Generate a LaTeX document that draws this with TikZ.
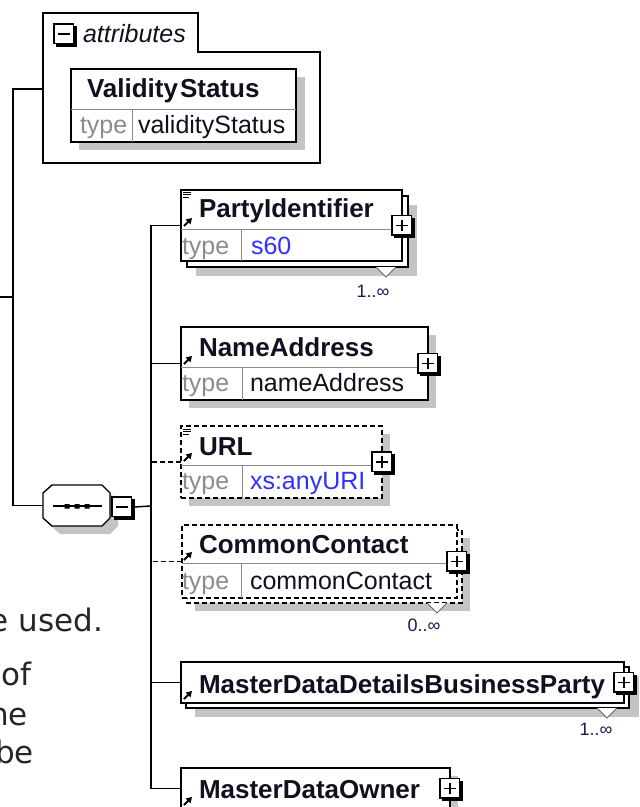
\documentclass[tikz,border=0pt]{standalone}
\usepackage{fontspec}
\setmainfont{Liberation Sans}
\newfontfamily\docfont{DejaVu Sans}
\usetikzlibrary{arrows.meta}
\definecolor{shd}{HTML}{C4C4C4}
\definecolor{typegray}{HTML}{8C8C8C}
\definecolor{divgray}{HTML}{8A8A8A}
\definecolor{typeblue}{HTML}{3030FF}
\definecolor{navy}{HTML}{1A1A50}
\definecolor{ink}{HTML}{101020}
\tikzset{
  every node/.style={inner sep=0pt, outer sep=0pt},
  conn/.style={line width=1.5pt},
  dconn/.style={line width=1.5pt, dash pattern=on 5pt off 3pt},
  elbox/.style={draw=black, line width=1.4pt, fill=white, anchor=north west, inner sep=0pt},
  delbox/.style={elbox, dash pattern=on 5pt off 3pt},
  backbox/.style={draw=black, line width=1.4pt, fill=white},
  dbackbox/.style={backbox, dash pattern=on 5pt off 3pt},
  shadowfill/.style={fill=shd, draw=none},
  divline/.style={draw=divgray, line width=1pt},
  titletext/.style={anchor=base west, font=\fontsize{26}{31}\selectfont\bfseries, text=ink},
  typelabel/.style={anchor=base west, font=\fontsize{25}{30}\selectfont, text=typegray},
  typeval/.style={anchor=base west, font=\fontsize{25}{30}\selectfont, text=ink},
  typevalblue/.style={typeval, text=typeblue},
  cardtext/.style={font=\fontsize{18}{22}\selectfont, text=navy},
  doctext/.style={anchor=base east, font=\docfont\fontsize{31}{37}\selectfont, text=black!85},
  plusbox/.pic={
    \fill[black] (-8,-8) rectangle (12.5,12.5);
    \draw[line width=1.2pt, fill=white] (-10,-10) rectangle (9.5,9.5);
    \draw[line width=1.5pt] (-6,-0.25) -- (5.5,-0.25) (-0.25,-6) -- (-0.25,5.5);
  },
  minusbox/.pic={
    \fill[black] (-8,-8) rectangle (12.5,12.5);
    \draw[line width=1.2pt, fill=white] (-10,-10) rectangle (9.5,9.5);
    \draw[line width=1.5pt] (-6,-0.25) -- (5.5,-0.25);
  },
  vmark/.pic={
    \draw[draw=black!60, line width=1pt, fill=white] (-10,0) -- (0,10) -- (10,0);
  },
  refarrow/.pic={
    \draw[line width=2pt, -{Triangle[length=5.5pt,width=6.5pt]}] (0,0) -- (8,-8);
  },
  docicon/.pic={
    \draw[line width=1pt] (0,0) -- (8,0) (0,2.8) -- (8,2.8) (0,5.6) -- (6,5.6);
  },
  octshadow/.pic={
    \fill[shd] (-24.5,-20.5) -- (25.5,-20.5) -- (33.5,-12.5) -- (33.5,12.5) -- (25.5,20.5) -- (-24.5,20.5) -- (-33.5,12.5) -- (-33.5,-12.5) -- cycle;
  },
  octagon/.pic={
    \draw[line width=1.4pt, fill=white] (-24.5,-20.5) -- (25.5,-20.5) -- (33.5,-12.5) -- (33.5,12.5) -- (25.5,20.5) -- (-24.5,20.5) -- (-33.5,12.5) -- (-33.5,-12.5) -- cycle;
  },
}
\begin{document}
\begin{tikzpicture}[x=1pt, y=-1pt]
\useasboundingbox (0,0) rectangle (640,807);
\clip (0,0) rectangle (640,807);

% ---------------- attributes group ----------------
\draw[line width=1.8pt, fill=white] (43,13) -- (198,13) -- (198,52) -- (320,52) -- (320,163) -- (43,163) -- cycle;
\node[anchor=north west, minimum width=277pt, minimum height=150pt] (attr) at (43,13) {};
\pic at (64,34) {minusbox};
\node[anchor=base west, font=\fontsize{25}{30}\selectfont\itshape, text=ink] (attrT) at (83,42) {attributes};

\fill[shadowfill] (79,77) rectangle (305,150);
\node[elbox, minimum width=225pt, minimum height=73pt] (vs) at (71,69) {};
\draw[divline] ([yshift=-40pt]vs.north west) -- ([yshift=-40pt]vs.north east);
\draw[divline] ([xshift=61pt,yshift=-40pt]vs.north west) -- ([xshift=61pt]vs.south west);
\node[titletext] (vsT) at (87,97) {Validity\kern2pt Status};
\node[typelabel] (vsL) at (80,133) {type};
\node[typeval] (vsV) at (138,133) {validityStatus};

% ---------------- left connectors ----------------
\coordinate (parent) at (0,297);
\coordinate (bus) at (13,297);
\draw[conn] (parent) -- (bus);

% ---------------- choice compositor ----------------
\pic at (84.5,513.5) {octshadow};
\pic at (76.5,505.5) {octagon};
\node[minimum width=67pt, minimum height=41pt] (choice) at (76.5,505.5) {};
\draw[line width=1.3pt] (53,506) -- (102,506);
\fill[black] (64.5,504) rectangle (69.5,508.5) (74.5,504) rectangle (79.5,508.5) (84.5,504) rectangle (89.5,508.5);
\pic at (122,507) {minusbox};
\node[minimum width=22pt, minimum height=22pt] (cmin) at (123,507) {};

\draw[conn] (attr.west |- 0,89) -| (bus) |- (choice.west);

\coordinate (trunk) at (151,506);

% ---------------- PartyIdentifier ----------------
\fill[shadowfill] (196,205) rectangle (417,276);
\draw[backbox] (187,196) rectangle (408,267);
\node[elbox, minimum width=221pt, minimum height=71pt] (pid) at (181,190) {};
\draw[divline] ([yshift=-39pt]pid.north west) -- ([yshift=-39pt]pid.north east);
\draw[divline] ([xshift=60pt,yshift=-39pt]pid.north west) -- ([xshift=60pt]pid.south west);
\pic at (183,192) {docicon};
\pic at (184,226) {refarrow};
\node[titletext] (pidT) at (199,217) {PartyIdentifier};
\node[typelabel] (pidL) at (182,254) {type};
\node[typevalblue] (pidV) at (251,254) {s60};
\pic at (pid.east) {plusbox};
\pic at (386,267) {vmark};
\node[cardtext] (pidC) at (373,291) {1..∞};

% ---------------- NameAddress ----------------
\fill[shadowfill] (189,335) rectangle (436,408);
\node[elbox, minimum width=247pt, minimum height=73pt] (na) at (181,327) {};
\draw[divline] ([yshift=-40pt]na.north west) -- ([yshift=-40pt]na.north east);
\draw[divline] ([xshift=61pt,yshift=-40pt]na.north west) -- ([xshift=61pt]na.south west);
\pic at (184,364) {refarrow};
\node[titletext] (naT) at (199,356) {NameAddress};
\node[typelabel] (naL) at (182,391) {type};
\node[typeval] (naV) at (250,391) {nameAddress};
\pic at (na.east) {plusbox};

% ---------------- URL ----------------
\fill[shadowfill] (189,434) rectangle (390,506);
\node[delbox, minimum width=201pt, minimum height=72pt] (url) at (181,426) {};
\draw[divline] ([yshift=-39pt]url.north west) -- ([yshift=-39pt]url.north east);
\draw[divline] ([xshift=61pt,yshift=-39pt]url.north west) -- ([xshift=61pt]url.south west);
\pic at (183,429) {docicon};
\pic at (184,461) {refarrow};
\node[titletext] (urlT) at (199,455) {URL};
\node[typelabel] (urlL) at (182,489) {type};
\node[typevalblue] (urlV) at (250,489) {xs:anyURI};
\pic at (url.east) {plusbox};

% ---------------- CommonContact ----------------
\fill[shadowfill] (195,538) rectangle (470,611);
\draw[dbackbox] (187,530) rectangle (462,603);
\node[delbox, minimum width=275pt, minimum height=73pt] (cc) at (182,525) {};
\draw[divline] ([yshift=-38pt]cc.north west) -- ([yshift=-38pt]cc.north east);
\draw[divline] ([xshift=59pt,yshift=-38pt]cc.north west) -- ([xshift=59pt]cc.south west);
\pic at (184,560) {refarrow};
\node[titletext] (ccT) at (199,553) {CommonContact};
\node[typelabel] (ccL) at (182,589) {type};
\node[typeval] (ccV) at (250,589) {commonContact};
\pic at (cc.east) {plusbox};
\pic at (437,603) {vmark};
\node[cardtext] (ccC) at (424,625) {0..∞};

% ---------------- MasterDataDetailsBusinessParty ----------------
\fill[shadowfill] (195,676) rectangle (639,717);
\draw[backbox] (186,667) rectangle (629,708);
\node[elbox, minimum width=443pt, minimum height=41pt] (mddbp) at (181,662) {};
\pic at (184,699) {refarrow};
\node[titletext] (mddbpT) at (199,693) {MasterDataDetailsBusinessParty};
\pic at (mddbp.east) {plusbox};
\pic at (607,708) {vmark};
\node[cardtext] (mddbpC) at (596,729) {1..∞};

% ---------------- MasterDataOwner ----------------
\fill[shadowfill] (189,776) rectangle (458,817);
\node[elbox, minimum width=269pt, minimum height=41pt] (mdo) at (181,768) {};
\pic at (184,805) {refarrow};
\node[titletext] (mdoT) at (199,798) {MasterDataOwner};
\pic at (mdo.east) {plusbox};

% ---------------- trunk connectors ----------------
\draw[conn] (pid.west) -| (trunk) |- (mdo.west);
\draw[conn] (cmin.east) -- (trunk);
\draw[conn] (na.west) -- (na.west -| trunk);
\draw[dconn] (url.west) -- (url.west -| trunk);
\draw[dconn] (cc.west) -- (cc.west -| trunk);
\draw[conn] (mddbp.west) -- (mddbp.west -| trunk);

% ---------------- cut-off document text ----------------
\node[doctext] (d1) at (103,631) {e used.};
\node[doctext] (d2) at (31,685) {of};
\node[doctext] (d3) at (28,725) {ne};
\node[doctext] (d4) at (34,763) {be};
\end{tikzpicture}
\end{document}
